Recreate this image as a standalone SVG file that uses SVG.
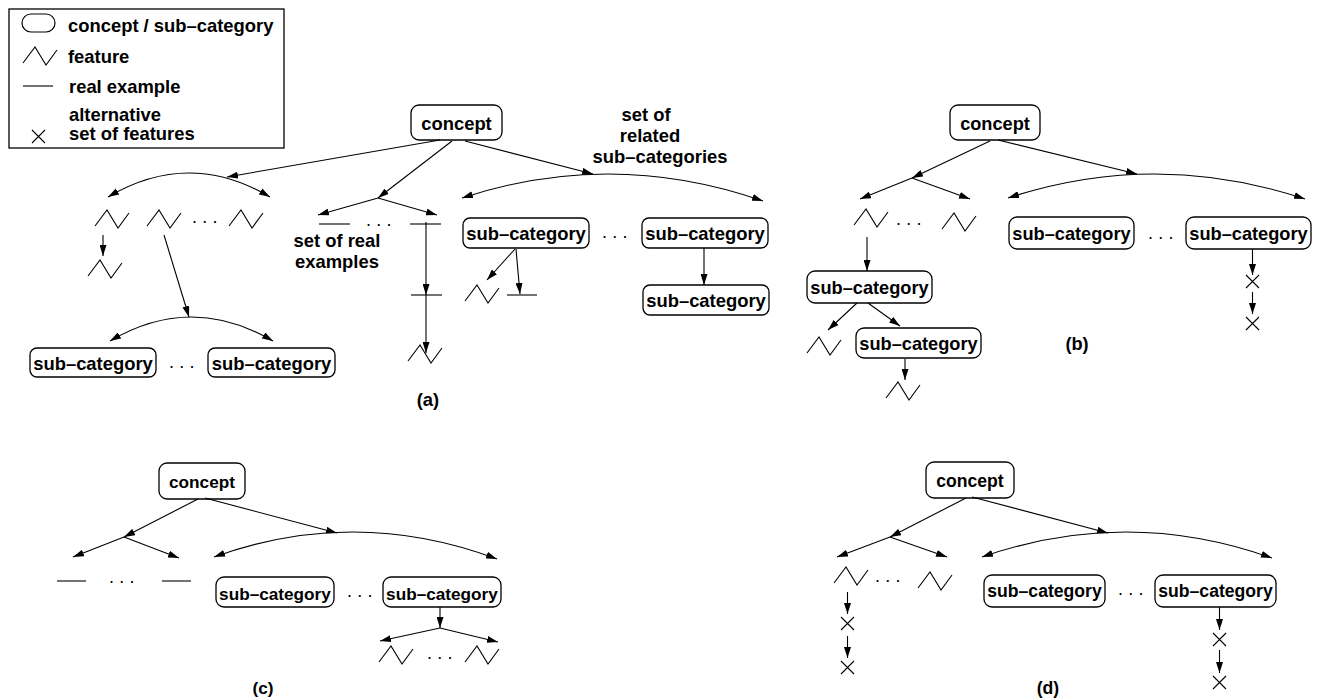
<svg xmlns="http://www.w3.org/2000/svg" xmlns:xlink="http://www.w3.org/1999/xlink" width="1327" height="700" viewBox="0 0 1327 700">
<style>
text{font-family:"Liberation Sans",Arial,sans-serif;font-weight:bold;fill:#000}
.t{font-size:18.4px}
.tb{font-size:18.2px}
.tc{font-size:17.2px}
.td{font-size:17.6px}
.mid{text-anchor:middle}
.dots{font-weight:normal;font-size:18px;letter-spacing:5.2px}
.box{fill:#fff;stroke:#000;stroke-width:1.3}
.ln{stroke:#000;stroke-width:1.1;fill:none}
.ar{stroke:#000;stroke-width:1.1;fill:none;marker-end:url(#ah)}
.arc{stroke:#000;stroke-width:1.1;fill:none;marker-start:url(#ah);marker-end:url(#ah)}
</style>
<defs>
<marker id="ah" markerWidth="11" markerHeight="7" refX="11" refY="3.5" orient="auto-start-reverse" markerUnits="userSpaceOnUse"><path d="M0,0 L11,3.5 L0,7 z" fill="#000"/></marker>
<path id="feat" d="M0,16 L12,0 L23,18 L34,3" stroke="#000" stroke-width="1.1" fill="none"/>
<path id="xx" d="M0,0 L13,13 M13,0 L0,13" stroke="#000" stroke-width="1.1" fill="none"/>
</defs>

<g id="legend">
<rect x="9" y="9" width="275" height="139" fill="#fff" stroke="#000" stroke-width="1.3"/>
<rect x="22" y="14" width="33" height="18" rx="9" fill="#fff" stroke="#000" stroke-width="1.2"/>
<text class="t" x="68" y="32">concept / sub–category</text>
<use xlink:href="#feat" x="23" y="47"/>
<text class="t" x="68" y="63">feature</text>
<line class="ln" x1="23" y1="86" x2="53" y2="86"/>
<text class="t" x="69" y="93">real example</text>
<text class="t" x="69" y="121">alternative</text>
<use xlink:href="#xx" x="32" y="130"/>
<text class="t" x="69" y="140">set of features</text>
</g>

<!-- (a) -->
<g id="a-concept"><rect class="box" x="411" y="105" width="91" height="35" rx="8"/><text class="t mid" x="456.5" y="130">concept</text></g>
<g id="a-features">
<use xlink:href="#feat" x="95" y="210"/>
<use xlink:href="#feat" x="147" y="210"/>
<text class="dots" x="192" y="223">...</text>
<use xlink:href="#feat" x="229" y="210"/>
<use xlink:href="#feat" x="88" y="260"/>
</g>
<g id="a-bottom-subcats">
<rect class="box" x="30" y="348" width="126" height="29" rx="7"/><text class="t mid" x="93" y="370">sub–category</text>
<text class="dots" x="169" y="368">...</text>
<rect class="box" x="208" y="348" width="127" height="29" rx="7"/><text class="t mid" x="271.5" y="370">sub–category</text>
</g>
<g id="a-examples">
<line class="ln" x1="319" y1="224" x2="350" y2="224"/>
<text class="dots" x="366" y="226">...</text>
<line class="ln" x1="410" y1="224" x2="441" y2="224"/>
<line class="ln" x1="411" y1="295" x2="442" y2="295"/>
<use xlink:href="#feat" x="408" y="345"/>
<text class="t mid" x="337" y="247">set of real</text>
<text class="t mid" x="337" y="268">examples</text>
</g>
<g id="a-subcats">
<rect class="box" x="463" y="218" width="126" height="30" rx="7"/><text class="t mid" x="526" y="240">sub–category</text>
<text class="dots" x="602" y="238">...</text>
<rect class="box" x="642" y="218" width="126" height="30" rx="7"/><text class="t mid" x="705" y="240">sub–category</text>
<rect class="box" x="643" y="285" width="126" height="30" rx="7"/><text class="t mid" x="706" y="307">sub–category</text>
<use xlink:href="#feat" x="465" y="285"/>
<line class="ln" x1="507" y1="295" x2="537" y2="295"/>
<text class="t mid" x="646" y="121">set of</text>
<text class="t mid" x="650" y="142">related</text>
<text class="t mid" x="660" y="163">sub–categories</text>
</g>
<g id="a-label"><text class="t mid" x="428" y="406">(a)</text></g>

<!-- (b) -->
<g id="b-concept"><rect class="box" x="950" y="105" width="90" height="35" rx="8"/><text class="tb mid" x="995" y="130">concept</text></g>
<g id="b-features">
<use xlink:href="#feat" x="854" y="209"/>
<text class="dots" x="896" y="225">...</text>
<use xlink:href="#feat" x="942" y="213"/>
</g>
<g id="b-subcats">
<rect class="box" x="1009" y="217" width="125" height="32" rx="8"/><text class="tb mid" x="1071.5" y="240">sub–category</text>
<text class="dots" x="1148" y="239">...</text>
<rect class="box" x="1186" y="217" width="125" height="32" rx="8"/><text class="tb mid" x="1248.5" y="240">sub–category</text>
<use xlink:href="#xx" x="1246" y="275"/>
<use xlink:href="#xx" x="1246" y="317"/>
</g>
<g id="b-sub1">
<rect class="box" x="807" y="271" width="125" height="32" rx="8"/><text class="tb mid" x="869.5" y="294">sub–category</text>
<use xlink:href="#feat" x="807" y="337"/>
<rect class="box" x="856" y="328" width="125" height="30" rx="8"/><text class="tb mid" x="918.5" y="350">sub–category</text>
<use xlink:href="#feat" x="886" y="382"/>
</g>
<g id="b-label"><text class="tb mid" x="1077" y="350">(b)</text></g>

<!-- (c) -->
<g id="c-concept"><rect class="box" x="159" y="463" width="86" height="36" rx="8"/><text class="tc mid" x="202" y="488">concept</text></g>
<g id="c-examples">
<line class="ln" x1="57" y1="581" x2="86" y2="581"/>
<text class="dots" x="109" y="583">...</text>
<line class="ln" x1="162" y1="581" x2="191" y2="581"/>
</g>
<g id="c-subcats">
<rect class="box" x="216" y="577" width="118" height="30" rx="8"/><text class="tc mid" x="275" y="599.5">sub–category</text>
<text class="dots" x="347" y="597">...</text>
<rect class="box" x="383" y="577" width="118" height="30" rx="8"/><text class="tc mid" x="442" y="599.5">sub–category</text>
<use xlink:href="#feat" x="379" y="646"/>
<text class="dots" x="427" y="659">...</text>
<use xlink:href="#feat" x="465" y="646"/>
</g>
<g id="c-label"><text class="tc mid" x="263" y="694">(c)</text></g>

<!-- (d) -->
<g id="d-concept"><rect class="box" x="926" y="462" width="88" height="36" rx="8"/><text class="td mid" x="970" y="487">concept</text></g>
<g id="d-features">
<use xlink:href="#feat" x="834" y="567"/>
<text class="dots" x="875" y="582">...</text>
<use xlink:href="#feat" x="918" y="572"/>
<use xlink:href="#xx" x="841" y="617"/>
<use xlink:href="#xx" x="841" y="661"/>
</g>
<g id="d-subcats">
<rect class="box" x="984" y="575" width="121" height="32" rx="8"/><text class="td mid" x="1044.5" y="597">sub–category</text>
<text class="dots" x="1118" y="595">...</text>
<rect class="box" x="1155" y="575" width="121" height="32" rx="8"/><text class="td mid" x="1215.5" y="597">sub–category</text>
<use xlink:href="#xx" x="1213" y="633"/>
<use xlink:href="#xx" x="1213" y="676"/>
</g>
<g id="d-label"><text class="td mid" x="1048" y="694">(d)</text></g>

<g id="connectors">
<!-- (a) -->
<line class="ar" x1="440" y1="140" x2="227" y2="177"/>
<line class="ar" x1="452" y1="141" x2="378" y2="198"/>
<line class="ar" x1="465" y1="141" x2="593" y2="174"/>
<path class="arc" d="M108,197 Q189,149 270,197"/>
<line class="ar" x1="378" y1="198" x2="318" y2="215"/>
<line class="ar" x1="378" y1="198" x2="437" y2="215"/>
<line class="ar" x1="103" y1="235" x2="103" y2="256"/>
<line class="ar" x1="164" y1="235" x2="189" y2="317"/>
<path class="arc" d="M110,341 Q191.5,293 273,341"/>
<line class="ar" x1="426" y1="222" x2="426" y2="295"/>
<line class="ar" x1="426" y1="295" x2="426" y2="353"/>
<line class="ar" x1="515" y1="249" x2="487" y2="280"/>
<line class="ar" x1="516" y1="249" x2="520" y2="294"/>
<line class="ar" x1="704" y1="248" x2="704" y2="285"/>
<path class="arc" d="M462,198 Q612,148.5 763,201"/>
<!-- (b) -->
<line class="ar" x1="990" y1="141" x2="912" y2="178"/>
<line class="ar" x1="998" y1="140" x2="1137" y2="174"/>
<line class="ar" x1="912" y1="178" x2="860" y2="199"/>
<line class="ar" x1="912" y1="178" x2="970" y2="199"/>
<path class="arc" d="M1008,198 Q1156,149.5 1305,199"/>
<line class="ar" x1="867" y1="237" x2="867" y2="271"/>
<line class="ar" x1="857" y1="303" x2="828" y2="330"/>
<line class="ar" x1="868" y1="303" x2="900" y2="326"/>
<line class="ar" x1="905" y1="359" x2="905" y2="380"/>
<line class="ar" x1="1252.5" y1="249" x2="1252.5" y2="275"/>
<line class="ar" x1="1252.5" y1="292" x2="1252.5" y2="314"/>
<!-- (c) -->
<line class="ar" x1="198" y1="499" x2="124" y2="537"/>
<line class="ar" x1="205" y1="498" x2="337" y2="533"/>
<line class="ar" x1="124" y1="537" x2="73" y2="557"/>
<line class="ar" x1="124" y1="537" x2="179" y2="558"/>
<path class="arc" d="M214,557 Q355.5,506 497,559"/>
<line class="ar" x1="440" y1="607" x2="440" y2="628"/>
<line class="ar" x1="440" y1="628" x2="380" y2="641"/>
<line class="ar" x1="440" y1="628" x2="498" y2="642"/>
<!-- (d) -->
<line class="ar" x1="966" y1="498" x2="890" y2="537"/>
<line class="ar" x1="972" y1="497" x2="1108" y2="533"/>
<line class="ar" x1="890" y1="537" x2="837" y2="557"/>
<line class="ar" x1="890" y1="537" x2="947" y2="557"/>
<path class="arc" d="M982,557 Q1127,506.5 1272,558"/>
<line class="ar" x1="847.5" y1="592" x2="847.5" y2="614"/>
<line class="ar" x1="847.5" y1="636" x2="847.5" y2="658"/>
<line class="ar" x1="1219.5" y1="607" x2="1219.5" y2="630"/>
<line class="ar" x1="1219.5" y1="650" x2="1219.5" y2="673"/>
</g>
</svg>
